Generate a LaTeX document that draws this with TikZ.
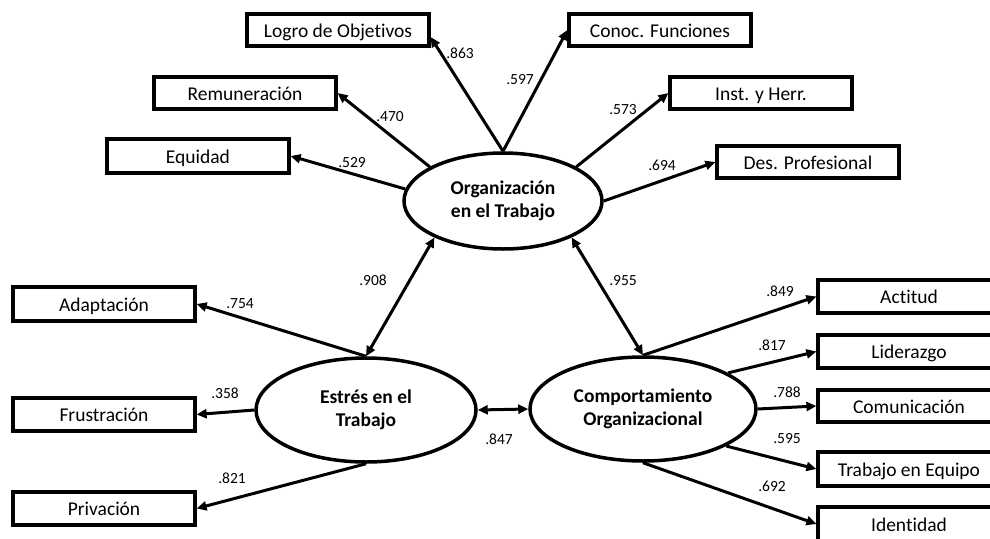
\documentclass[tikz,border=0pt]{standalone}
\usepackage{fontspec}
\setmainfont{Carlito}[Ligatures=NoCommon]
\usetikzlibrary{arrows.meta,shapes.geometric}
\begin{document}
\begin{tikzpicture}[x=1pt,y=-1pt,
  obs/.style={draw,line width=3.2pt,minimum width=182pt,minimum height=32pt,inner sep=0pt,text height=16pt,text depth=2pt,font=\fontsize{19.5}{22}\selectfont},
  lat/.style={draw,ellipse,line width=3.5pt,inner sep=0pt,align=center,font=\bfseries\fontsize{19.5}{23}\selectfont},
  arr/.style={line width=3pt,-{Triangle[length=10pt,width=9pt]}},
  dbl/.style={line width=3pt,{Triangle[length=10pt,width=9pt]}-{Triangle[length=10pt,width=9pt]}},
  lbl/.style={font=\fontsize{15.5}{17}\selectfont,inner sep=0pt}]
\useasboundingbox (0,0) rectangle (990,538);
% latent variables
\node[lat,minimum width=198pt,minimum height=96pt] (org) at (503,201) {Organización\\en el Trabajo};
\node[lat,minimum width=220pt,minimum height=104pt] (est) at (366,410) {Estrés en el\\Trabajo};
\node[lat,minimum width=226pt,minimum height=104pt] (comp) at (643,409) {Comportamiento\\Organizacional};
% observed variables
\node[obs,minimum height=32pt] (logro) at (338,30) {Logro de Objetivos};
\node[obs] (remu) at (245,93) {Remuneración};
\node[obs,minimum height=34pt] (equi) at (198,156) {Equidad};
\node[obs] (conoc) at (660,30) {Conoc. Funciones};
\node[obs] (inst) at (761,93) {Inst. y Herr.};
\node[obs] (des) at (808,162) {Des. Profesional};
\node[obs,minimum height=34pt] (adap) at (104,304) {Adaptación};
\node[obs,minimum height=33pt] (frus) at (104,414.5) {Frustración};
\node[obs,minimum height=33pt] (priv) at (104,508.5) {Privación};
\node[obs,minimum height=33pt] (acti) at (909,296.5) {Actitud};
\node[obs,minimum height=33pt] (lide) at (909,351.5) {Liderazgo};
\node[obs,minimum height=32pt] (comu) at (909,406) {Comunicación};
\node[obs,minimum height=34pt] (trab) at (909,469) {Trabajo en Equipo};
\node[obs,minimum height=34pt] (iden) at (909,524) {Identidad};
% loadings: Organización
\draw[arr] (org.north) -- ([yshift=-7pt]logro.east);
\draw[arr] (org.north) -- (conoc.west);
\draw[arr] (org.155) -- (remu.east);
\draw[arr] (org.173) -- (equi.east);
\draw[arr] (org.25) -- (inst.west);
\draw[arr] (org.east) -- (des.west);
% loadings: Estrés
\draw[arr] (est.north) -- (adap.east);
\draw[arr] (est.west) -- (frus.east);
\draw[arr] (est.south) -- (priv.east);
% loadings: Comportamiento
\draw[arr] (comp.north) -- (acti.west);
\draw[arr] (comp.23) -- (lide.west);
\draw[arr] (comp.east) -- (comu.west);
\draw[arr] (comp.-24) -- (trab.west);
\draw[arr] (comp.south) -- (iden.west);
% correlations
\draw[dbl] (org.208) -- (est.north);
\draw[dbl] (org.332) -- (comp.north);
\draw[dbl] (est.east) -- (comp.west);
% labels
\node[lbl] (l863) at (460,53) {.863};
\node[lbl] (l470) at (390,117) {.470};
\node[lbl] (l529) at (352,163) {.529};
\node[lbl] (l597) at (520,80) {.597};
\node[lbl] (l573) at (623,110) {.573};
\node[lbl] (l694) at (662,165) {.694};
\node[lbl] (l908) at (373,280) {.908};
\node[lbl] (l754) at (240,304) {.754};
\node[lbl] (l358) at (225,393) {.358};
\node[lbl] (l821) at (232,478) {.821};
\node[lbl] (l847) at (499,439) {.847};
\node[lbl] (l955) at (623,281) {.955};
\node[lbl] (l849) at (780,291) {.849};
\node[lbl] (l817) at (772,345) {.817};
\node[lbl] (l788) at (787,392) {.788};
\node[lbl] (l595) at (787,439) {.595};
\node[lbl] (l692) at (772,486) {.692};
\end{tikzpicture}
\end{document}
